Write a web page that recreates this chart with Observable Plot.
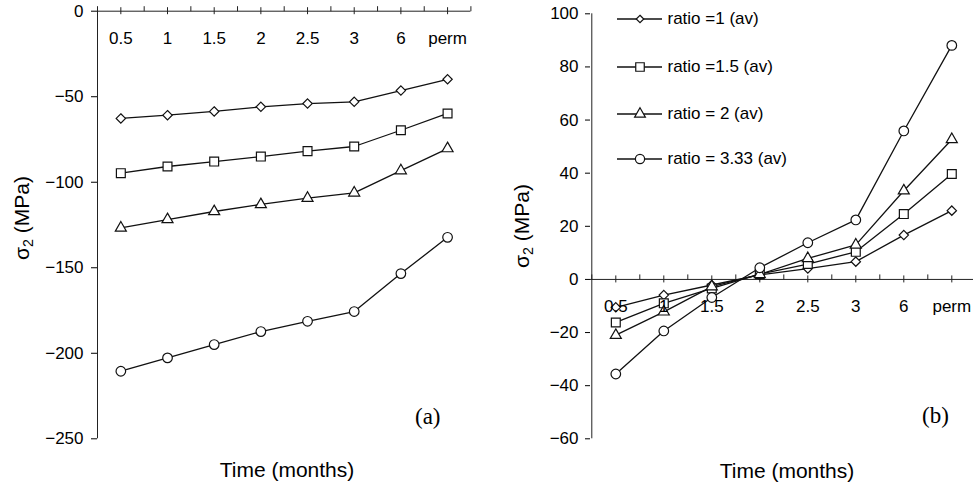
<!DOCTYPE html>
<html><head><meta charset="utf-8">
<script src="https://cdn.jsdelivr.net/npm/d3@7"></script>
<script src="https://cdn.jsdelivr.net/npm/@observablehq/plot@0.6"></script>
<style>
body{margin:0;background:#fff;}
#wrap{position:relative;width:973px;height:487px;overflow:hidden;font-family:"Liberation Sans",Arial,sans-serif;color:#000;}
.panel{position:absolute;top:0;}
.ttl{position:absolute;white-space:nowrap;font-size:21px;transform:translate(-50%,-50%);}
.rot{transform:translate(-50%,-50%) rotate(-90deg);}
.tag{position:absolute;font-family:"Liberation Serif","Times New Roman",serif;font-size:23px;transform:translateY(-50%);}
.leg{position:absolute;display:flex;align-items:center;font-size:17px;white-space:nowrap;transform:translateY(-50%);}
.leg svg{display:block;margin-right:5px;}
sub{font-size:0.68em;vertical-align:-0.3em;line-height:0;}
</style></head><body><div id="wrap"></div>
<script>
// ---- data ----
const categories = ["0.5", "1", "1.5", "2", "2.5", "3", "6", "perm"];
const seriesNames = ["ratio =1 (av)", "ratio =1.5 (av)", "ratio = 2 (av)", "ratio = 3.33 (av)"];
const seriesSymbols = ["diamond2", "square", "triangle", "circle"];
const seriesR = [4.2, 5.0, 4.1, 4.8];

// panel (a)
const leftRatio1   = [-62.7, -60.8, -58.6, -55.9, -54.0, -53.0, -46.4, -39.8];
const leftRatio15  = [-94.7, -90.8, -87.9, -85.0, -81.8, -79.1, -69.6, -59.8];
const leftRatio2   = [-126.7, -121.8, -117.1, -113.0, -109.3, -106.2, -93.2, -80.3];
const leftRatio333 = [-210.5, -202.7, -194.9, -187.3, -181.3, -175.6, -153.4, -132.2];
const leftYDomain = [-250, 0];
const leftYTicks = [0, -50, -100, -150, -200, -250];

// panel (b)
const rightRatio1   = [-10.5, -5.9, -2.1, 1.7, 4.1, 6.7, 16.7, 25.9];
const rightRatio15  = [-16.2, -9.0, -3.4, 2.0, 5.8, 10.4, 24.6, 39.7];
const rightRatio2   = [-21.0, -12.2, -2.7, 1.9, 7.9, 13.0, 33.4, 52.7];
const rightRatio333 = [-35.6, -19.4, -6.8, 4.4, 13.8, 22.4, 55.9, 88.1];
const rightYDomain = [-60, 100];
const rightYTicks = [100, 80, 60, 40, 20, 0, -20, -40, -60];

// ---- helpers ----
const majorTick = {draw(ctx) { ctx.moveTo(0, -4); ctx.lineTo(0, 3); }};
const minorTick = {draw(ctx) { ctx.moveTo(0, -5); ctx.lineTo(0, 0); }};
const bandEdges = d3.range(0, categories.length + 1);
const catIdx = categories.map((c, i) => i);

function toRows(seriesArrays) {
  const rows = [];
  seriesArrays.forEach((vals, s) => vals.forEach((v, i) => rows.push({s, i, cat: categories[i], y: v})));
  return rows;
}

function panel({seriesArrays, yDomain, yTicks, width, height, marginLeft, marginRight, marginTop, marginBottom, xRange, tickSize, tickPadding}) {
  const rows = toRows(seriesArrays);
  const marks = [
    Plot.ruleX([0], {y1: yDomain[0], y2: yDomain[1], stroke: "#222", strokeWidth: 1}),
    Plot.ruleY([0], {stroke: "#222", strokeWidth: 1}),
    Plot.dot(catIdx, {x: d => d + 0.5, y: () => 0, symbol: majorTick, stroke: "#222", strokeWidth: 1}),
    Plot.dot(bandEdges, {x: d => d, y: () => 0, symbol: minorTick, stroke: "#222", strokeWidth: 1}),
    Plot.line(rows, {x: d => d.i + 0.5, y: "y", z: "s", stroke: "#111", strokeWidth: 1.3})
  ];
  seriesArrays.forEach((vals, s) => {
    marks.push(Plot.dot(rows.filter(d => d.s === s), {x: d => d.i + 0.5, y: "y", symbol: seriesSymbols[s], r: seriesR[s], fill: "white", stroke: "#111", strokeWidth: 1.2}));
  });
  marks.push(Plot.text(categories, {x: (d, i) => i + 0.5, y: () => 0, text: d => d, dy: 27, fontSize: 17, fill: "#000"}));
  const xOpts = {type: "linear", domain: [0, categories.length], axis: null};
  if (xRange) xOpts.range = xRange;
  return Plot.plot({
    width, height, marginLeft, marginRight, marginTop, marginBottom,
    style: {fontFamily: "Liberation Sans, Arial, sans-serif", fontSize: "17px", color: "#000", background: "transparent", overflow: "visible"},
    x: xOpts,
    y: {domain: yDomain, ticks: yTicks, tickSize, tickPadding, label: null},
    marks
  });
}

const wrap = document.getElementById("wrap");

const left = panel({
  seriesArrays: [leftRatio1, leftRatio15, leftRatio2, leftRatio333],
  yDomain: leftYDomain, yTicks: leftYTicks,
  width: 490, height: 487, marginLeft: 97, marginRight: 19.6, marginTop: 10.7, marginBottom: 48.7,
  tickSize: 6, tickPadding: 8
});
const lp = document.createElement("div"); lp.className = "panel"; lp.style.left = "0px"; lp.appendChild(left); wrap.appendChild(lp);

const right = panel({
  seriesArrays: [rightRatio1, rightRatio15, rightRatio2, rightRatio333],
  yDomain: rightYDomain, yTicks: rightYTicks,
  width: 483, height: 487, marginLeft: 100, marginRight: 0, marginTop: 13.3, marginBottom: 48.7,
  xRange: [101.3, 485.3],
  tickSize: 5, tickPadding: 7
});
const rp = document.createElement("div"); rp.className = "panel"; rp.style.left = "490px"; rp.appendChild(right); wrap.appendChild(rp);

// titles
function addDiv(cls, html, x, y) {
  const d = document.createElement("div"); d.className = cls; d.innerHTML = html;
  d.style.left = x + "px"; d.style.top = y + "px"; wrap.appendChild(d); return d;
}
addDiv("ttl", "Time (months)", 287, 470);
addDiv("ttl", "Time (months)", 787, 471);
addDiv("ttl rot", "σ<sub>2</sub> (MPa)", 22, 218);
addDiv("ttl rot", "σ<sub>2</sub> (MPa)", 522, 226);
addDiv("tag", "(a)", 415, 417);
addDiv("tag", "(b)", 922, 416);

// legend
const legY = [19.3, 66.7, 114.3, 159.3];
const legR = [3.4, 4.8, 4.0, 4.6];
seriesNames.forEach((name, s) => {
  const symbolType = {circle: d3.symbolCircle, square: d3.symbolSquare, triangle: d3.symbolTriangle, diamond2: d3.symbolDiamond2}[seriesSymbols[s]];
  const path = d3.symbol(symbolType, Math.PI * legR[s] * legR[s])();
  const d = addDiv("leg", "", 616.5, legY[s]);
  d.innerHTML = `<svg width="46" height="16"><line x1="0" x2="45" y1="8" y2="8" stroke="#111" stroke-width="1.3"/><path transform="translate(23,8)" d="${path}" fill="white" stroke="#111" stroke-width="1.2"/></svg><span>${name}</span>`;
});
</script>
</body></html>
